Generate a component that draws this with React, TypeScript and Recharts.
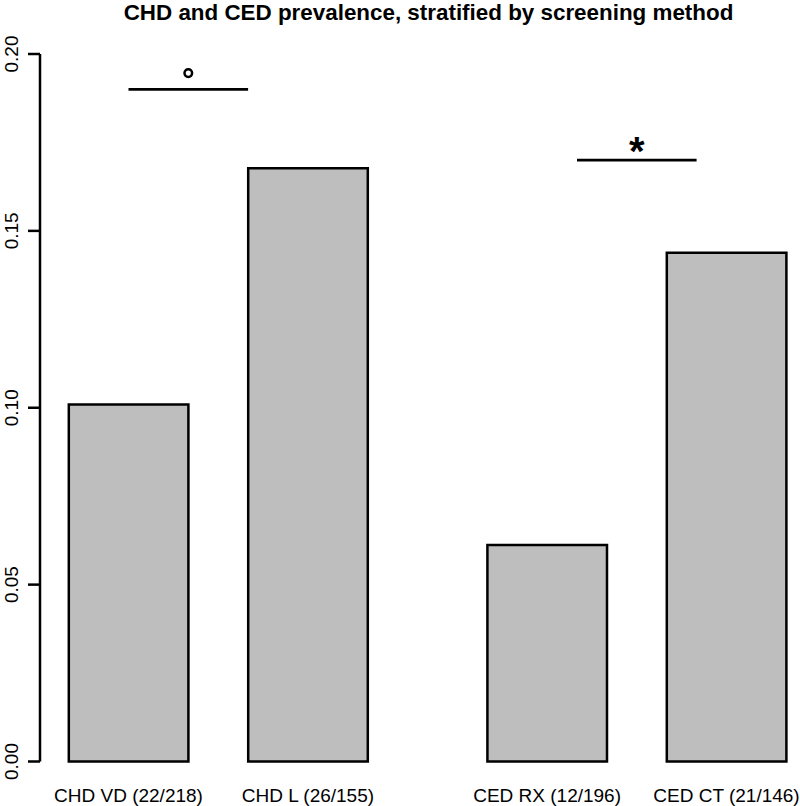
import React from "react";
import { BarChart, Bar, XAxis, YAxis, ReferenceLine, ReferenceDot } from "recharts";

const categories = ["CHD VD (22/218)", "CHD L (26/155)", "CED RX (12/196)", "CED CT (21/146)"];
const barPositions = [1, 4, 8, 11];
const prevalence = [0.1009, 0.1677, 0.0612, 0.1438];
const yTicks = [0, 0.05, 0.1, 0.15, 0.2];

// significance brackets between the paired bars
const bracketFrom = [1, 8.5];
const bracketTo = [3, 10.5];
const bracketY = [0.19, 0.17];
const markX = [2, 9.5];
const markY = [0.1946, 0.1748];
const markType = ["circle", "star"];

const data = categories.map((name, i) => ({ name, pos: barPositions[i], value: prevalence[i] }));

const FONT = '"Liberation Sans", Arial, Helvetica, sans-serif';

const YTick = (props: any) => {
  const { x, y, payload } = props;
  const tx = x - 10.5;
  return (
    <text
      x={tx}
      y={y}
      transform={`rotate(-90, ${tx}, ${y})`}
      textAnchor="middle"
      fontSize={19}
      fontFamily={FONT}
      fill="#000"
    >
      {Number(payload.value).toFixed(2)}
    </text>
  );
};

const XTick = (props: any) => {
  const { x, y, payload } = props;
  const idx = barPositions.indexOf(payload.value);
  return (
    <text x={x} y={y + 40} textAnchor="middle" fontSize={19} fontFamily={FONT} fill="#000">
      {categories[idx]}
    </text>
  );
};

const Star = (props: any) => {
  const { cx, cy } = props;
  return (
    <text x={cx} y={cy + 22} textAnchor="middle" fontSize={40} fontWeight="bold" fontFamily={FONT} fill="#000">
      *
    </text>
  );
};

export default function App() {
  return (
    <div style={{ position: "absolute", left: 0, top: 0, width: 800, height: 806, overflow: "hidden", background: "#fff" }}>
      <BarChart
        width={815}
        height={806}
        data={data}
        margin={{ top: 54, right: 0, bottom: 0, left: 0 }}
      >
        <XAxis
          dataKey="pos"
          type="number"
          domain={[-0.48, 12.48]}
          ticks={barPositions}
          axisLine={false}
          tickLine={false}
          tickSize={0}
          tickMargin={0}
          height={44.5}
          tick={<XTick />}
          interval={0}
          allowDataOverflow
        />
        <YAxis
          type="number"
          domain={[0, 0.2]}
          ticks={yTicks}
          width={40}
          tickSize={12}
          tickMargin={0}
          axisLine={{ stroke: "#000", strokeWidth: 2.5 }}
          tickLine={{ stroke: "#000", strokeWidth: 2.5 }}
          tick={<YTick />}
          interval={0}
        />
        <Bar
          dataKey="value"
          fill="#bebebe"
          stroke="#000"
          strokeWidth={2.5}
          barSize={119.6}
          isAnimationActive={false}
        />
        {bracketFrom.map((from, i) => (
          <ReferenceLine
            key={`br${i}`}
            segment={[
              { x: from, y: bracketY[i] },
              { x: bracketTo[i], y: bracketY[i] },
            ]}
            stroke="#000"
            strokeWidth={2.8}
            ifOverflow="visible"
          />
        ))}
        {markX.map((mx, i) =>
          markType[i] === "circle" ? (
            <ReferenceDot
              key={`mk${i}`}
              x={mx}
              y={markY[i]}
              r={3.8}
              fill="#fff"
              stroke="#000"
              strokeWidth={2.5}
              ifOverflow="visible"
            />
          ) : (
            <ReferenceDot key={`mk${i}`} x={mx} y={markY[i]} r={7} shape={<Star />} ifOverflow="visible" />
          )
        )}
      </BarChart>
      <svg width={800} height={30} style={{ position: "absolute", left: 0, top: 0 }}>
        <text x={428.5} y={19.5} textAnchor="middle" fontSize={22.4} fontWeight="bold" fontFamily={FONT} fill="#000">
          CHD and CED prevalence, stratified by screening method
        </text>
      </svg>
    </div>
  );
}
